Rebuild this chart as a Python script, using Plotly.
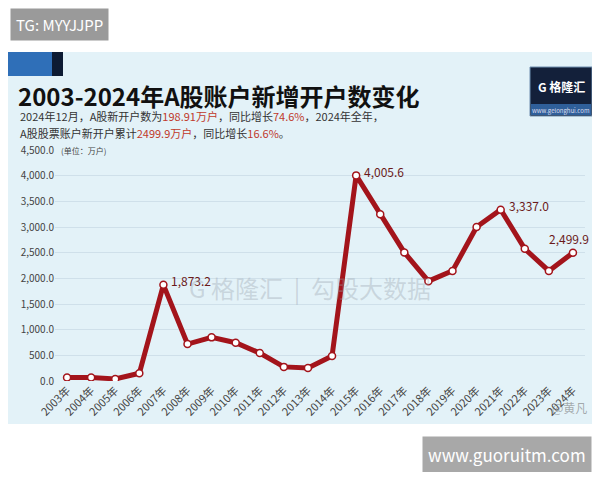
import plotly.graph_objects as go

years = [f"{y}年" for y in range(2003, 2025)]
accounts = [70, 70, 40, 150, 1873.2, 720, 850, 745, 545, 275, 255, 485,
            4005.6, 3250, 2505, 1945, 2145, 3000, 3337.0, 2575, 2145, 2499.9]
label_idx = [4, 12, 18, 21]
tick_vals = [0, 500, 1000, 1500, 2000, 2500, 3000, 3500, 4000, 4500]
tick_text = [f"{v:,.1f}" for v in tick_vals]

red = "#a3141b"
fig = go.Figure()
fig.add_trace(go.Scatter(
    x=years, y=accounts, mode="lines+markers",
    line=dict(color=red, width=5),
    marker=dict(size=7, color="white", line=dict(color=red, width=1.5)),
))
for i in label_idx:
    last = i == len(years) - 1
    fig.add_annotation(x=years[i], y=accounts[i], text=f"{accounts[i]:,.1f}",
                       showarrow=False, xanchor="center" if last else "left",
                       xshift=-4 if last else 6, yshift=14 if last else 4,
                       font=dict(size=12, color="#6b1a1a"))

# page body adds an 8px margin, so design coords are offset by OFF
OFF = 8
W, H = 600 - 2 * OFF, 480 - 2 * OFF
PW, PH, L, T = 530, 231, 55 - OFF, 150 - OFF
def px_(x):
    return (x - OFF - L) / PW
def py_(y):
    return 1 + (T - (y - OFF)) / PH

fig.add_shape(type="rect", xref="paper", yref="paper", x0=px_(0), x1=px_(600),
              y0=py_(424), y1=py_(52), fillcolor="#e3f2f8", line_width=0, layer="below")
fig.add_shape(type="rect", xref="paper", yref="paper", x0=px_(8), x1=px_(52),
              y0=py_(76), y1=py_(52), fillcolor="#2f6fb8", line_width=0)
fig.add_shape(type="rect", xref="paper", yref="paper", x0=px_(52), x1=px_(63),
              y0=py_(76), y1=py_(52), fillcolor="#0d1b33", line_width=0)
fig.add_shape(type="rect", xref="paper", yref="paper", x0=px_(530), x1=px_(592),
              y0=py_(116), y1=py_(67), fillcolor="#13203a",
              line=dict(color="#6f8fb0", width=1))
fig.add_shape(type="rect", xref="paper", yref="paper", x0=px_(531), x1=px_(591),
              y0=py_(115), y1=py_(104), fillcolor="#2f5f9a", line_width=0)

def note(x, y, text, size, color="#333", anchor="left", **kw):
    return dict(xref="paper", yref="paper", x=px_(x), y=py_(y), xanchor=anchor,
                yanchor="middle", showarrow=False, text=text,
                font=dict(size=size, color=color), **kw)

r = "<span style='color:#c0392b'>%s</span>"
fig.update_layout(
    width=W, height=H, paper_bgcolor="white", plot_bgcolor="rgba(0,0,0,0)",
    margin=dict(l=L, r=W - L - PW, t=T, b=H - T - PH), showlegend=False,
    font=dict(family="Noto Sans CJK SC, sans-serif", color="#333"),
    xaxis=dict(range=[-0.5, 21.5], tickangle=-45, showgrid=False, automargin=False,
               tickfont=dict(size=11, color="#444"), ticks=""),
    yaxis=dict(range=[0, 4500], tickvals=tick_vals, ticktext=tick_text, automargin=False,
               gridcolor="#cfe0ea", zeroline=False, tickfont=dict(size=10, color="#444")),
    annotations=list(fig.layout.annotations) + [
        note(16, 96, "<b>2003-2024年A股账户新增开户数变化</b>", 24, "#111"),
        note(18, 116, "2024年12月，A股新开户数为" + r % "198.91万户" + "，同比增长"
             + r % "74.6%" + "，2024年全年，", 11),
        note(18, 133, "A股股票账户新开户累计" + r % "2499.9万户" + "，同比增长"
             + r % "16.6%" + "。", 11),
        note(59, 150, "(单位：万户)", 8, "#444"),
        note(561, 86, "<b>G 格隆汇</b>", 12, "white", anchor="center"),
        note(561, 110, "www.gelonghui.com", 6, "#dde", anchor="center"),
        note(310, 287, "G 格隆汇  |  勾股大数据", 24, "rgba(150,160,170,0.35)", anchor="center"),
        note(10, 24, "TG: MYYJJPP", 15, "white", bgcolor="#9a9a9a", borderpad=5),
        note(592, 454, "www.guoruitm.com", 17, "white", anchor="right",
             bgcolor="#a8a8a8", borderpad=5),
        note(550, 407, "@黄凡", 12, "rgba(120,120,120,0.6)"),
    ],
)

fig.write_html("out.html")
